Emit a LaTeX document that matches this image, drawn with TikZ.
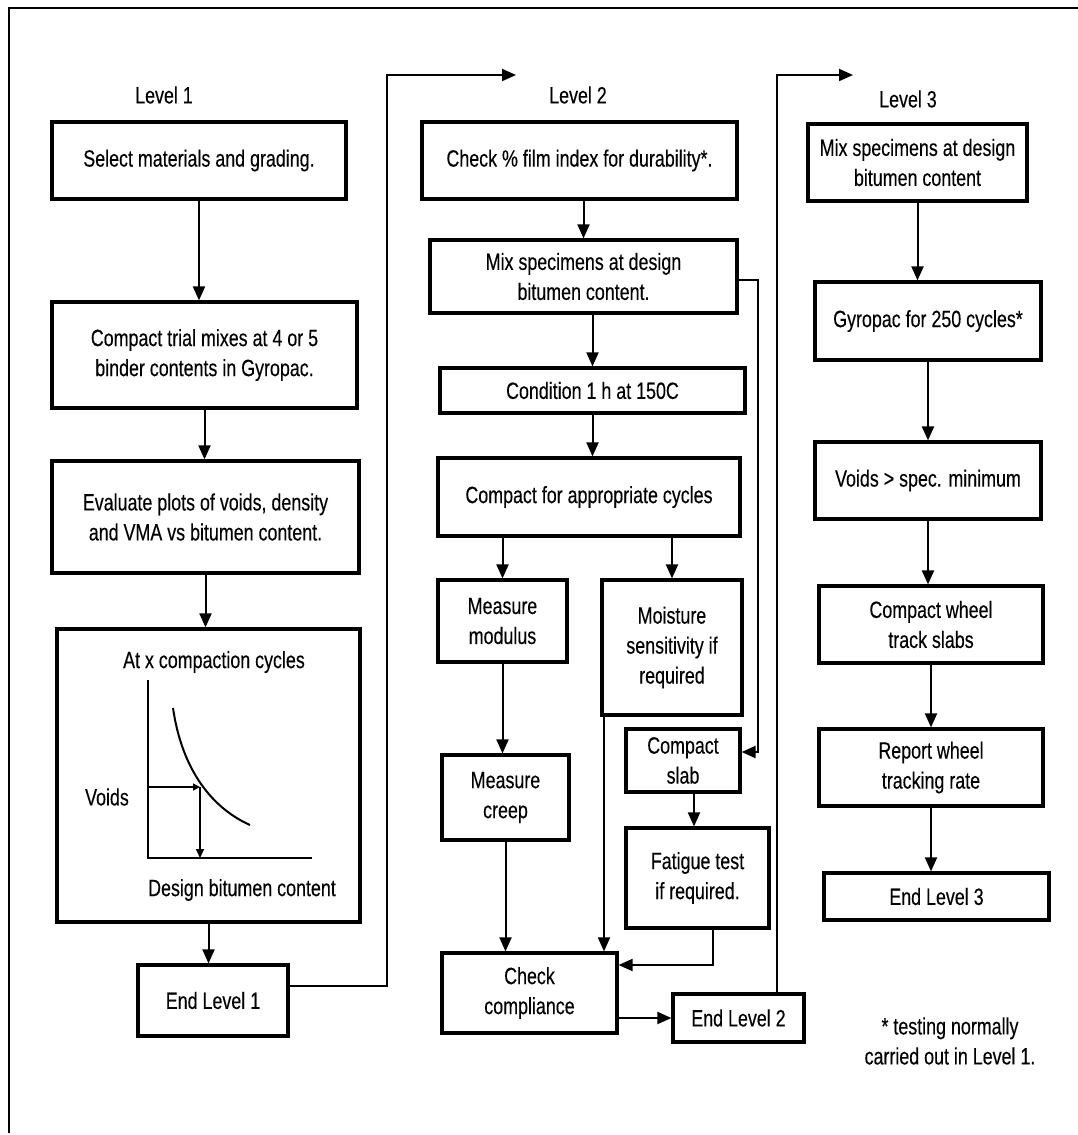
\documentclass[tikz,border=0pt]{standalone}
\usepackage{fontspec}
\setmainfont[FakeStretch=0.76,FakeBold=0.25]{Liberation Sans}
\usetikzlibrary{arrows.meta}
\tikzset{
  box/.style={draw, line width=3.2pt, inner sep=0pt, align=center, font=\fontsize{23.5}{30}\selectfont},
  lbl/.style={inner sep=0pt, align=center, font=\fontsize{23.5}{30}\selectfont},
  arr/.style={line width=2pt, -{Triangle[width=12pt,length=14pt]}},
  ln/.style={line width=2pt},
}
\newcommand{\bx}[6]{\node[box, minimum width=#4pt, minimum height=#5pt] (#1) at (#2,#3) {#6};}
\begin{document}
\begin{tikzpicture}[x=1pt,y=-1pt]
\useasboundingbox (0,0) rectangle (1078,1135);
\fill[white] (0,0) rectangle (1078,1135);
% frame
\coordinate (fbl) at (9,1133);
\coordinate (ftl) at (9,8);
\coordinate (ftr) at (1078,8);
\draw[line width=2.4pt] (fbl) -- (ftl) -- (ftr);

% level labels
\node[lbl] (lv1) at (164,95) {Level 1};
\node[lbl] (lv2) at (578,95) {Level 2};
\node[lbl] (lv3) at (908,99) {Level 3};

% Level 1
\bx{sel}{199}{160.5}{294}{77}{Select materials and grading.}
\bx{ctm}{204.5}{355}{305}{106}{Compact trial mixes at 4 or 5\\binder contents in Gyropac.}
\bx{eval}{205.5}{517}{307}{112}{Evaluate plots of voids, density\\and VMA vs bitumen content.}
\bx{chart}{208.5}{775.5}{303}{293}{}
\bx{end1}{213}{1000.5}{150}{71}{End Level 1}

% Level 2
\bx{film}{579.5}{160.5}{315}{77}{Check \% film index for durability*.}
\bx{mix2}{583.5}{276.5}{307}{73}{Mix specimens at design\\bitumen content.}
\bx{cond}{592.5}{390.5}{305}{45}{Condition 1 h at 150C}
\bx{cyc}{589}{497}{302}{78}{Compact for appropriate cycles}
\bx{mod}{502.5}{621}{129}{82}{Measure\\modulus}
\bx{moist}{672}{647.5}{140}{135}{Moisture\\sensitivity if\\required}
\bx{creep}{505.5}{797.5}{127}{85}{Measure\\creep}
\bx{slab}{683}{760.5}{114}{63}{Compact\\slab}
\bx{fat}{697.5}{878}{143}{100}{Fatigue test\\if required.}
\bx{comp}{529.5}{993}{175}{80}{Check\\compliance}
\bx{end2}{738.5}{1018}{131}{48}{End Level 2}

% Level 3
\bx{mix3}{917.5}{162.5}{219}{77}{Mix specimens at design\\bitumen content}
\bx{gyro}{928}{321}{226}{78}{Gyropac for 250 cycles*}
\bx{voids}{928}{480.5}{226}{77}{Voids > spec. minimum}
\bx{wheel}{931}{624.5}{224}{77}{Compact wheel\\track slabs}
\bx{report}{931}{767.5}{224}{77}{Report wheel\\tracking rate}
\bx{end3}{936.5}{896.5}{225}{47}{End Level 3}

\node[lbl] (note) at (950,1041) {* testing normally\\carried out in Level 1.};

% chart contents
\node[lbl] (ctitle) at (214,662) {At x compaction cycles};
\node[lbl] (cvoids) at (107,797) {Voids};
\node[lbl] (cdes) at (242,890) {Design bitumen content};
\coordinate (ytop) at (148,680);
\coordinate (orig) at (148,858);
\coordinate (xend) at (312,858);
\coordinate (pt) at (200,787);
\coordinate (ybase) at (200,858);
\draw[ln] (ytop) -- (orig) -- (xend);
\draw[ln] (173,708) .. controls (182,770) and (212,808) .. (250,825);
\draw[line width=1.6pt, -{Triangle[width=7pt,length=7pt]}] (ytop |- pt) -- (pt);
\draw[line width=1.6pt, -{Triangle[width=8pt,length=9pt]}] (pt) -- (ybase);

% Level 1 connectors
\draw[arr] (sel.south) -- (sel.south |- ctm.north);
\draw[arr] (ctm.south) -- (ctm.south |- eval.north);
\draw[arr] (eval.south) -- (eval.south |- chart.north);
\draw[arr] (chart.south) -- (chart.south |- end1.north);
\coordinate (j1) at (387,75);
\coordinate (j1tip) at (516,75);
\draw[arr] ([yshift=14.5pt]end1.east) -| (j1) -- (j1tip);

% Level 2 connectors
\draw[arr] (mix2.north |- film.south) -- (mix2.north);
\draw[arr] (cond.north |- mix2.south) -- (cond.north);
\draw[arr] (cond.south) -- (cond.south |- cyc.north);
\draw[arr] (mod.north |- cyc.south) -- (mod.north);
\draw[arr] (moist.north |- cyc.south) -- (moist.north);
\draw[arr] (mod.south) -- (mod.south |- creep.north);
\draw[arr] (creep.south) -- (creep.south |- comp.north);
\coordinate (r2) at (758,752);
\draw[arr] ([yshift=-3.5pt]mix2.east) -| (r2) -- (slab.east |- r2);
\coordinate (sx) at (694,0);
\draw[arr] (sx |- slab.south) -- (sx |- fat.north);
\coordinate (mx) at (604,0);
\draw[arr] (mx |- moist.south) -- (mx |- comp.north);
\coordinate (fx) at (713,965);
\draw[arr] (fx |- fat.south) -- (fx) -- (comp.east |- fx);
\draw[arr] (comp.east |- end2.west) -- (end2.west);
\coordinate (j2) at (777,75);
\coordinate (j2tip) at (853,75);
\draw[arr] (j2 |- end2.north) -- (j2) -- (j2tip);

% Level 3 connectors
\draw[arr] (mix3.south) -- (mix3.south |- gyro.north);
\draw[arr] (gyro.south) -- (gyro.south |- voids.north);
\draw[arr] (voids.south) -- (voids.south |- wheel.north);
\draw[arr] (wheel.south) -- (wheel.south |- report.north);
\draw[arr] (report.south) -- (report.south |- end3.north);
\end{tikzpicture}
\end{document}
